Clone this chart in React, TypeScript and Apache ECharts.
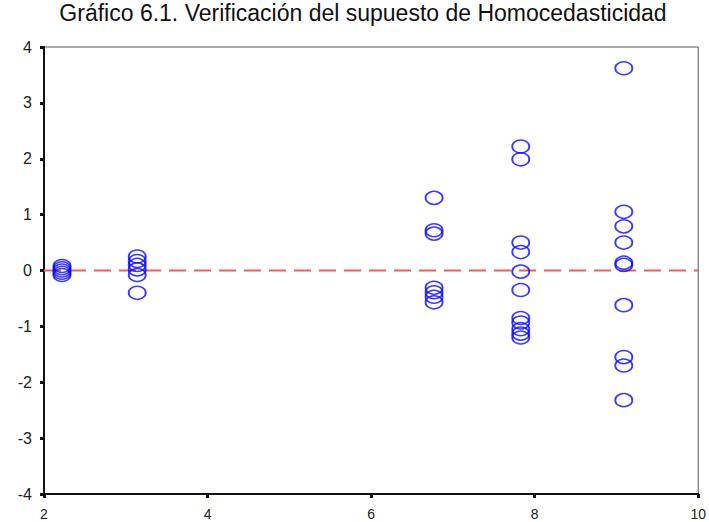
import React, { useEffect, useRef } from "react";
import * as echarts from "echarts";

const TITLE = "Gráfico 6.1. Verificación del supuesto de Homocedasticidad";
const X_TICKS = [2, 4, 6, 8, 10];
const Y_TICKS = [-4, -3, -2, -1, 0, 1, 2, 3, 4];

const c1x = 2.22;
const c1y = [0.08, 0.04, 0.0, -0.04, -0.08];
const c2x = 3.14;
const c2y = [0.25, 0.17, 0.1, 0.02, -0.08, -0.4];
const c3x = 6.77;
const c3y = [1.3, 0.72, 0.66, -0.31, -0.39, -0.47, -0.57];
const c4x = 7.83;
const c4y = [2.22, 1.99, 0.5, 0.33, -0.02, -0.35, -0.85, -0.93, -1.05, -1.13, -1.2];
const c5x = 9.09;
const c5y = [3.62, 1.05, 0.79, 0.5, 0.14, 0.1, -0.62, -1.55, -1.7, -2.32];

const clusters: [number, number[]][] = [
  [c1x, c1y],
  [c2x, c2y],
  [c3x, c3y],
  [c4x, c4y],
  [c5x, c5y],
];

export default function App() {
  const ref = useRef<HTMLDivElement>(null);
  useEffect(() => {
    if (!ref.current) return;
    const chart = echarts.init(ref.current, null, { renderer: "svg" });
    const points: number[][] = [];
    clusters.forEach(([x, ys]) => ys.forEach((y) => points.push([x, y])));
    chart.setOption({
      animation: false,
      backgroundColor: "#ffffff",
      grid: { left: 44, right: 5, top: 47, bottom: 28, show: true, borderColor: "#555", borderWidth: 1 },
      graphic: [
        {
          type: "text",
          x: 363,
          y: 1,
          style: {
            text: TITLE,
            fontFamily: "Liberation Sans Narrow, Liberation Sans, Arial",
            fontSize: 23,
            fill: "#111",
            textAlign: "center",
            textVerticalAlign: "top",
          },
        },
      ],
      xAxis: {
        type: "value",
        min: X_TICKS[0],
        max: X_TICKS[X_TICKS.length - 1],
        interval: 2,
        splitLine: { show: false },
        axisLine: { show: true, onZero: false, lineStyle: { color: "#111", width: 2 } },
        axisTick: { show: true, length: 4, lineStyle: { color: "#111", width: 3 } },
        axisLabel: {
          color: "#222",
          fontSize: 14,
          fontFamily: "Liberation Sans, Arial",
          margin: 13,
          formatter: (v: number) => (X_TICKS.includes(v) ? String(v) : ""),
        },
      },
      yAxis: {
        type: "value",
        min: Y_TICKS[0],
        max: Y_TICKS[Y_TICKS.length - 1],
        interval: 1,
        splitLine: { show: false },
        axisLine: { show: true, onZero: false, lineStyle: { color: "#111", width: 2 } },
        axisTick: { show: true, length: 4, lineStyle: { color: "#111", width: 3 } },
        axisLabel: {
          color: "#222",
          fontSize: 16,
          fontFamily: "Liberation Sans, Arial",
          margin: 12,
        },
      },
      series: [
        {
          type: "line",
          data: [
            [X_TICKS[0], 0],
            [X_TICKS[X_TICKS.length - 1], 0],
          ],
          symbol: "none",
          lineStyle: { color: "#ff5a5a", width: 2, type: [17, 8] },
          z: 1,
        },
        {
          type: "scatter",
          data: points,
          symbol: "circle",
          symbolSize: [17, 13],
          itemStyle: { color: "transparent", borderColor: "#0a0aff", borderWidth: 1.7 },
          z: 2,
        },
      ],
    });
    return () => chart.dispose();
  }, []);
  return (
    <div
      ref={ref}
      style={{ position: "fixed", left: 0, top: 0, width: 709, height: 522, background: "#fff" }}
    />
  );
}
